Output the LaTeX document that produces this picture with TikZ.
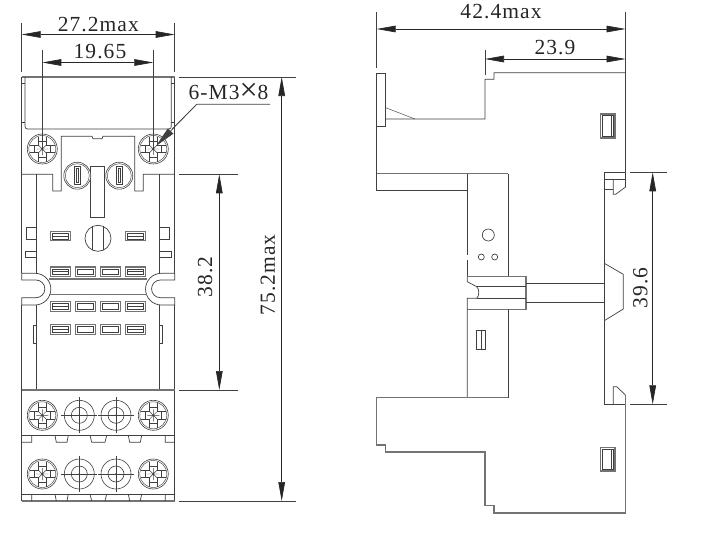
\documentclass[tikz,border=0pt]{standalone}
\usepackage{fontspec}
\setmainfont[LetterSpace=5]{Liberation Serif}
\usetikzlibrary{arrows.meta}
\definecolor{ink}{gray}{0.25}
\definecolor{soft}{gray}{0.45}
\tikzset{
  part/.style={draw=ink,line width=0.7pt,line join=miter},
  thin part/.style={draw=ink,line width=0.45pt},
  heavy part/.style={draw=soft,line width=1.1pt},
  dimline/.style={draw=black!85,line width=0.65pt,{Triangle[length=19pt,width=6.6pt]}-{Triangle[length=19pt,width=6.6pt]}},
  extline/.style={draw=black!75,line width=0.65pt},
  label/.style={font=\fontsize{21.5}{23}\selectfont,inner sep=0pt,text=black!85},
  pan/.pic={
    \draw[thin part,line width=0.6pt] (0,0) circle (15);
    \draw[thin part] (0,0) circle (13.5);
    \draw[thin part] (-12.5,-3.6) -- (-3.6,-3.6) -- (-3.6,-12.5) (3.6,-12.5) -- (3.6,-3.6) -- (12.5,-3.6)
      (12.5,3.6) -- (3.6,3.6) -- (3.6,12.5) (-3.6,12.5) -- (-3.6,3.6) -- (-12.5,3.6);
    \draw[thin part] (-8,-3.6) -- (-8,3.6) (8,-3.6) -- (8,3.6) (-3.6,-8) -- (3.6,-8) (-3.6,8) -- (3.6,8);
    \draw[thin part] (-3.6,-3.6) -- (3.6,3.6) (-3.6,3.6) -- (3.6,-3.6) (-6,0) -- (6,0) (0,-6) -- (0,6);
  },
  flat/.pic={
    \draw[thin part,line width=0.6pt] (0,0) circle (15);
    \draw[thin part,line width=0.6pt] (0,0) circle (8);
    \draw[thin part] (-18,0) -- (18,0) (0,-18) -- (0,18);
    \fill[ink] (0,0) circle (0.9);
  },
  plug/.pic={
    \draw[thin part,line width=0.6pt] (0,0) circle (13.5);
    \draw[thin part] (0,0) circle (12);
    \draw[thin part] (-3.2,-9) rectangle (3.2,9);
    \draw[thin part] (-1,-7) rectangle (1,7);
  },
}
\newcommand{\slotbox}[3]{% x y style
  \draw[heavy part] (#1,#2) rectangle ++(20,9.5);
  \draw[thin part] (#1+1.8,#2+1.8) rectangle ++(16.4,5.9);
  \ifnum#3=1 \draw[thin part] (#1+1.8,#2+4.7) -- ++(16.4,0);\fi
}
\begin{document}
\begin{tikzpicture}[x=1pt,y=-1pt]
\useasboundingbox (0,0) rectangle (720,535);
\fill[white] (0,0) rectangle (720,535);

% ---------- front view: body
\draw[part] (21.7,77) -- (21.7,273.3) (174.7,77) -- (174.7,273.3);
\draw[heavy part] (21.7,77) -- (174.7,77);
\draw[part,rounded corners=2.5pt] (25,77) -- (25,129) -- (171.3,129) -- (171.3,77);
\draw[thin part] (21.7,83) -- (25,83) (21.7,122) -- (25,122) (171.3,83) -- (174.7,83) (171.3,122) -- (174.7,122);

% centre block
\draw[part] (21.7,174.3) -- (52.7,174.3) -- (52.7,191) -- (61.3,191) -- (61.3,136.3) -- (92,136.3) -- (93,138.7) -- (102,138.7) -- (103,136.3) -- (134.7,136.3) -- (134.7,191) -- (143.3,191) -- (143.3,174.3) -- (174.7,174.3);
\draw[part] (90.7,166.7) -- (90.7,217) -- (104.7,217) -- (104.7,166.7) -- cycle;
\draw[part] (36.3,174.3) -- (36.3,273.3) (159.7,174.3) -- (159.7,273.3);
\draw[part] (36.3,227.3) -- (26.3,227.3) -- (26.3,239) -- (36.3,239);
\draw[part] (159.7,227.3) -- (169.7,227.3) -- (169.7,239) -- (159.7,239);
\draw[part] (36.3,251.7) -- (25,251.7) -- (25,257.7) -- (36.3,257.7);
\draw[part] (159.7,251.7) -- (171.3,251.7) -- (171.3,257.7) -- (159.7,257.7);

% screws, small plugs
\foreach \px in {42.3,153.3} \pic at (\px,149) {pan};
\fill[white] (77.3,175.7) circle (13.5) (119.3,175.7) circle (13.5);
\pic at (77.3,175.7) {plug};
\pic at (119.3,175.7) {plug};

% sockets
\slotbox{50.3}{231.3}{1}\slotbox{125.3}{231.3}{1}
\foreach \rowy in {267,301.7,324.7}{
  \slotbox{50.3}{\rowy}{1}\slotbox{75.3}{\rowy}{0}\slotbox{100.3}{\rowy}{0}\slotbox{125.3}{\rowy}{1}
}
\draw[part] (98,238.3) circle (13);
\draw[thin part] (92.7,226.4) -- (92.7,250.2) (103.3,226.4) -- (103.3,250.2);

% waist with two round notches
\draw[part] (21.7,273.3) -- (35,273.3) arc[start angle=-90,end angle=90,radius=15.85] -- (21.7,305) -- (21.7,297.7) -- (36,297.7) arc[start angle=90,end angle=-90,radius=8.85] -- (21.7,280) -- cycle;
\draw[part] (174.7,273.3) -- (161.4,273.3) arc[start angle=-90,end angle=-270,radius=15.85] -- (174.7,305) -- (174.7,297.7) -- (160.4,297.7) arc[start angle=90,end angle=270,radius=8.85] -- (174.7,280) -- cycle;
\draw[heavy part] (49,279) -- (147,279) (49,294.3) -- (147,294.3);

% lower body
\draw[part] (21.7,305) -- (21.7,501) (174.7,305) -- (174.7,501);
\draw[part] (36.3,305) -- (36.3,390) (159.7,305) -- (159.7,390);
\draw[thin part] (36.3,325) -- (33.3,325) -- (33.3,343.5) -- (36.3,343.5);
\draw[thin part] (159.7,325) -- (162.7,325) -- (162.7,343.5) -- (159.7,343.5);
\draw[heavy part] (21.7,390) -- (174.7,390);
\foreach \py in {415.3,474}{
  \foreach \px in {42.3,153.3} \pic at (\px,\py) {pan};
  \foreach \px in {79.3,116} \pic at (\px,\py) {flat};
}
\draw[part] (21.7,435.3) -- (174.7,435.3);
\draw[part] (21.7,442.3) -- (31.7,442.3) -- (31.7,435.3)
  (55,435.3) -- (56.3,442.3) -- (67,442.3) -- (68.3,435.3)
  (90,435.3) -- (91.7,442.3) -- (105,442.3) -- (106.7,435.3)
  (128.3,435.3) -- (129.7,442.3) -- (140.3,442.3) -- (141.7,435.3)
  (165.3,435.3) -- (165.3,442.3) -- (174.7,442.3);
\draw[part] (21.7,494) -- (174.7,494);
\draw[heavy part] (21.7,501) -- (174.7,501);
\draw[part] (31.7,494) -- (31.7,501) (55,494) -- (56.3,501) (67,501) -- (68.3,494)
  (90,494) -- (91.7,501) (105,501) -- (106.7,494) (128.3,494) -- (129.7,501) (140.3,501) -- (141.7,494) (165.3,494) -- (165.3,501);

% ---------- side view
\draw[part] (385.7,119) -- (485,119) -- (485,79.3) -- (494,79.3) -- (494,72.7) -- (625.5,72.7) -- (625.5,187) -- (615.7,194.3) -- (613.3,194.3) -- (613.3,179);
\draw[part] (376.7,73.3) rectangle (385.7,126.3);
\draw[thin part] (385.7,107.7) -- (415,119);
\draw[part] (376.7,126.3) -- (376.7,190.7) -- (467.3,190.7);
\draw[heavy part] (376.7,173.7) -- (508.3,173.7);
\draw[part] (467.3,173.7) -- (467.3,255) (467.3,260) -- (467.3,276.7) (508.3,173.7) -- (508.3,276.7);
\draw[heavy part] (467.3,276.7) -- (526,276.7) -- (526,309.3) -- (467.3,309.3);
\draw[part] (467.3,276.7) -- (467.3,281.7) -- (476.7,286.7) .. controls (479.5,289) and (479.5,296) .. (476.7,298.3) -- (467.3,298.3) -- (467.3,397.7);
\draw[part] (476.7,286.7) -- (526,286.7) (476.7,298.3) -- (526,298.3);
\draw[part] (526,283.3) -- (604.3,283.3) (526,302.3) -- (604.3,302.3);
\draw[part] (508.3,309.3) -- (508.3,397.7);
\draw[part] (488.3,235) circle (6);
\draw[part] (481.3,257) circle (3) (494.7,257) circle (3);
\draw[part] (476.7,330.7) rectangle (485.3,349.5);
\draw[thin part] (481.7,330.7) -- (481.7,349.5);
% rail
\draw[part] (625.5,172.3) -- (604.3,172.3) -- (604.3,404.3) -- (625.5,404.3);
\draw[part] (604.3,179) -- (625.5,179) (604.3,189.3) -- (613.3,189.3);
\draw[part] (604.3,263.3) -- (623.3,274.3) -- (623.3,309) -- (604.3,320.7);
\draw[part] (613.3,404.3) -- (613.3,386.7) -- (616.7,386.7) -- (625.5,395);
\draw[heavy part] (625.5,395) -- (625.5,513) -- (494,513) -- (494,505.7) -- (485,505.7) -- (485,452) -- (385.7,452) -- (385.7,445) -- (376.7,445) -- (376.7,397.7) -- (508.3,397.7);
\foreach \topy/\boty in {114/138,447.3/471}{
  \draw[heavy part] (600.7,\topy) rectangle (615,\boty);
  \draw[thin part] (602,\topy+1.5) rectangle (613.7,\boty-1.5);
  \draw[thin part] (611,\topy+1.5) -- (611,\boty-1.5);
}

% ---------- dimensions, front
\coordinate (aL) at (21.7,34.5); \coordinate (aR) at (174.7,34.5);
\coordinate (bL) at (42.3,62.5); \coordinate (bR) at (153.3,62.5);
\coordinate (cT) at (281.7,77); \coordinate (cB) at (281.7,501);
\coordinate (dT) at (219.3,174.3); \coordinate (dB) at (219.3,390);
\draw[extline] (21.7,23) -- (21.7,72) (174.7,23) -- (174.7,72);
\draw[extline] (42.3,50) -- (42.3,149) (153.3,50) -- (153.3,149);
\draw[extline] (179,77) -- (296,77) (179,501) -- (296,501);
\draw[extline] (179,174.3) -- (238,174.3) (179,390) -- (238,390);
\draw[dimline] (aL) -- (aR);
\draw[dimline] (bL) -- (bR);
\draw[dimline] (cT) -- (cB);
\draw[dimline] (dT) -- (dB);
\node[label] (t272) at (98.3,25) {27.2max};
\node[label] (t1965) at (100,52) {19.65};
\node[label,rotate=90] (t752) at (268,275) {75.2max};
\node[label,rotate=90] (t382) at (205,277) {38.2};
\node[label] (tm3) at (228.5,92) {6-M3\raisebox{-0.07em}{\scalebox{1.5}{×}}8};
\coordinate (lead) at (270,104.3); \coordinate (leadK) at (196.7,104.3); \coordinate (leadE) at (156,146);
\draw[extline] (lead) -- (leadK) -- (172,129);
\draw[extline,-{Triangle[length=21pt,width=7.5pt]}] (leadK) -- (leadE);

% ---------- dimensions, side
\coordinate (eL) at (376.7,29); \coordinate (eR) at (625.5,29);
\coordinate (fL) at (485,59); \coordinate (fR) at (625.5,59);
\coordinate (gT) at (652.7,172.3); \coordinate (gB) at (652.7,404.3);
\draw[extline] (376.7,12) -- (376.7,68) (625.5,12) -- (625.5,72.7) (485,50) -- (485,75);
\draw[extline] (630,172.3) -- (667.3,172.3) (630,404.3) -- (667.3,404.3);
\draw[dimline] (eL) -- (eR);
\draw[dimline] (fL) -- (fR);
\draw[dimline] (gT) -- (gB);
\node[label] (t424) at (501,12) {42.4max};
\node[label] (t239) at (555,48) {23.9};
\node[label,rotate=90] (t396) at (640.5,288) {39.6};
\end{tikzpicture}
\end{document}
